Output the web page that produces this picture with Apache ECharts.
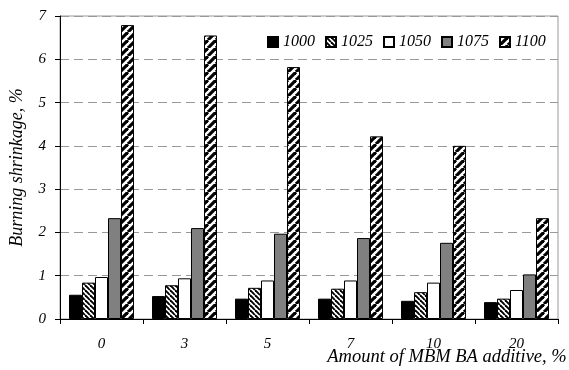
<!DOCTYPE html>
<html>
<head>
<meta charset="utf-8">
<script src="https://cdn.jsdelivr.net/npm/echarts@6/dist/echarts.min.js"></script>
<style>html,body{margin:0;padding:0;background:#fff}#c{width:569px;height:370px}</style>
</head>
<body>
<div id="c"></div>
<script>
var categories = ['0', '3', '5', '7', '10', '20'];
var seriesNames = ['1000', '1025', '1050', '1075', '1100'];
var s1000 = [0.56, 0.53, 0.47, 0.47, 0.42, 0.39];
var s1025 = [0.84, 0.78, 0.72, 0.70, 0.62, 0.47];
var s1050 = [0.97, 0.94, 0.89, 0.89, 0.84, 0.67];
var s1075 = [2.33, 2.10, 1.97, 1.87, 1.76, 1.03];
var s1100 = [6.79, 6.55, 5.82, 4.22, 4.00, 2.33];
var yTicks = [0, 1, 2, 3, 4, 5, 6, 7];

function makePattern(size, lw, dir) {
  var c = document.createElement('canvas');
  c.width = size; c.height = size;
  var g = c.getContext('2d');
  g.fillStyle = '#fff'; g.fillRect(0, 0, size, size);
  g.strokeStyle = '#000'; g.lineWidth = lw;
  for (var k = -1; k <= 1; k++) {
    g.beginPath();
    if (dir === '\\') { g.moveTo(k * size, 0); g.lineTo(k * size + size, size); }
    else { g.moveTo(k * size, size); g.lineTo(k * size + size, 0); }
    g.stroke();
  }
  return { image: c, repeat: 'repeat' };
}

var fills = ['#000000', makePattern(5, 1.9, '\\'), '#ffffff', '#808080', makePattern(8, 3.2, '/')];
var dataArr = [s1000, s1025, s1050, s1075, s1100];
var font = 'Liberation Serif';

var series = seriesNames.map(function (n, i) {
  return {
    name: n, type: 'bar', data: dataArr[i],
    barWidth: 13, barGap: '0%',
    itemStyle: { color: fills[i], borderColor: '#000', borderWidth: 1 }
  };
});

var chart = echarts.init(document.getElementById('c'));
chart.setOption({
  animation: false,
  backgroundColor: '#fff',
  grid: { left: 60, right: 11, top: 16, bottom: 51, show: true, borderColor: '#999', borderWidth: 1, containLabel: false, outerBoundsMode: 'none' },
  legend: {
    data: seriesNames, left: 262, top: 29, itemWidth: 10, itemHeight: 10, itemGap: 10,
    icon: 'rect',
    textStyle: { fontFamily: font, fontStyle: 'italic', fontSize: 16, color: '#000' }
  },
  xAxis: {
    type: 'category', data: categories,
    axisLine: { lineStyle: { color: '#000', width: 1 } },
    axisTick: { show: true, length: 5, lineStyle: { color: '#000' } },
    axisLabel: { margin: 18, fontFamily: font, fontStyle: 'italic', fontSize: 15, color: '#000' },
    name: 'Amount of MBM BA additive, %', nameLocation: 'middle', nameGap: 29, nameMoveOverlap: false,
    nameTextStyle: { fontFamily: font, fontStyle: 'italic', fontSize: 18.5, color: '#000', padding: [0, 0, 0, 276] }
  },
  yAxis: {
    type: 'value', min: yTicks[0], max: yTicks[yTicks.length - 1], interval: 1,
    axisLine: { show: true, lineStyle: { color: '#000', width: 1 } },
    axisTick: { show: true, length: 5, lineStyle: { color: '#000' } },
    axisLabel: { margin: 14, fontFamily: font, fontStyle: 'italic', fontSize: 15, color: '#000' },
    splitLine: { show: true, lineStyle: { color: '#999', type: [9, 5], width: 1 } },
    name: 'Burning shrinkage, %', nameLocation: 'middle', nameGap: 34, nameMoveOverlap: false,
    nameTextStyle: { fontFamily: font, fontStyle: 'italic', fontSize: 18, color: '#000' }
  },
  series: series
});
</script>
</body>
</html>
